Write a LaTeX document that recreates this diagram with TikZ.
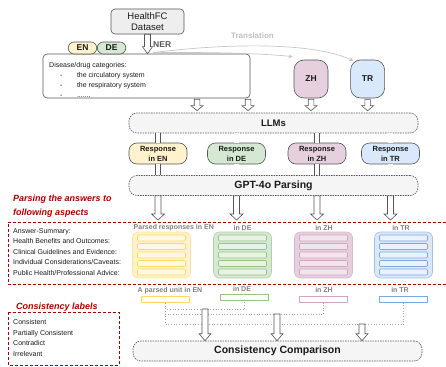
\documentclass[tikz,border=0pt]{standalone}
\usepackage{fontspec}
\setmainfont{Liberation Sans}
\usetikzlibrary{arrows.meta, calc, positioning}
\definecolor{edge}{HTML}{555555}
\definecolor{ink}{HTML}{1A1A1A}
\definecolor{panel}{HTML}{F5F5F5}
\definecolor{dataset}{HTML}{EEEEEE}
\definecolor{tagc}{HTML}{7F7F7F}
\definecolor{redc}{HTML}{B20000}
\definecolor{fillEN}{HTML}{FFF2CC}
\definecolor{lineEN}{HTML}{FFD966}
\definecolor{fillDE}{HTML}{D5E8D4}
\definecolor{lineDE}{HTML}{97C47E}
\definecolor{fillZH}{HTML}{E6D0DE}
\definecolor{lineZH}{HTML}{D4A5C0}
\definecolor{fillTR}{HTML}{DAE8FC}
\definecolor{lineTR}{HTML}{7EA6E0}
\tikzset{hollow/.style n args={4}{draw=edge, fill=white, line width=0.6pt,
  to path={let \p1=(\tikztostart), \p2=(\tikztotarget) in
    (\x1-#1,\y1) -- (\x1-#1,\y2+#3+#4) -- (\x1-#2,\y2+#3+#4) -- (\x1,\y2+#4)
    -- (\x1+#2,\y2+#3+#4) -- (\x1+#1,\y2+#3+#4) -- (\x1+#1,\y1) -- cycle}}}
\tikzstyle{box}=[draw=edge, line width=0.6pt, inner sep=0pt, align=center, text=ink]
\tikzstyle{stage}=[box, dash pattern=on 1.5pt off 1pt, fill=panel, rounded corners=8pt, minimum width=289pt, minimum height=20pt, font=\fontsize{9.5}{11}\selectfont\bfseries]
\tikzstyle{pill}=[box, rounded corners=6pt, minimum width=28.5pt, minimum height=12pt, font=\fontsize{8.5}{10}\selectfont\bfseries]
\tikzstyle{lang}=[box, rounded corners=10pt, minimum width=34pt, minimum height=38pt, font=\fontsize{8.5}{10}\selectfont\bfseries]
\tikzstyle{resp}=[box, rounded corners=8pt, minimum width=58pt, minimum height=21pt, font=\fontsize{7.5}{10}\selectfont\bfseries]
\tikzstyle{grp}=[rounded corners=6pt, minimum width=58pt, minimum height=46pt, inner sep=0pt, line width=0.6pt]
\tikzstyle{barbox}=[rounded corners=1pt, minimum width=48pt, minimum height=6pt, inner sep=0pt, line width=0.6pt]
\tikzstyle{unitbox}=[minimum width=48pt, minimum height=6pt, inner sep=0pt, line width=0.8pt, fill=white]
\tikzstyle{tag}=[text=tagc, font=\fontsize{7}{8}\selectfont\bfseries, inner sep=0pt]
\tikzstyle{listtext}=[text=ink, font=\fontsize{7}{10.5}\selectfont, align=left, inner sep=0pt]
\tikzstyle{redtitle}=[text=redc, font=\fontsize{9}{14}\selectfont\bfseries\itshape, align=left, inner sep=0pt]
\tikzstyle{redframe}=[draw=redc, line width=0.8pt, dash pattern=on 3pt off 2pt]
\tikzstyle{dotline}=[draw=gray!70, line width=0.7pt, dotted]
\tikzstyle{pipe}=[draw=edge, line width=0.6pt, double=white, double distance=4.6pt]
\tikzstyle{transl}=[draw=gray!45, line width=0.7pt, -{Stealth[length=4pt, width=4pt]}]
\tikzstyle{nerarrow}=[hollow={3pt}{5pt}{7pt}{0pt}]
\tikzstyle{smallarrow}=[hollow={2.8pt}{6pt}{5pt}{2pt}]
\tikzstyle{bigarrow}=[hollow={3pt}{6.5pt}{6pt}{2pt}]
\tikzstyle{lowarrow}=[hollow={3pt}{6pt}{7pt}{0pt}]

\begin{document}
\begin{tikzpicture}[x=1pt, y=-1pt]
  \useasboundingbox (0,0) rectangle (446,366);
  \node[box, fill=dataset, rounded corners=4pt, minimum width=73pt, minimum height=25pt, font=\fontsize{9.5}{11}\selectfont] (data) at (147.5,21.5) {HealthFC\\Dataset};
  \node[box, rounded corners=4pt, minimum width=207pt, minimum height=44pt] (cat) at (146.5,76) {};
  \node[listtext, anchor=north west, font=\fontsize{7}{10}\selectfont] (catlist) at (49,62) {Disease/drug categories:\\
    \hspace*{11pt}-\hspace*{14.5pt}the circulatory system\\
    \hspace*{11pt}-\hspace*{14.5pt}the respiratory system\\
    \hspace*{11pt}-\hspace*{14.5pt}.......};
  \node[pill, fill=fillEN] (en) at (82.5,48) {EN};
  \node[pill, fill=fillDE, right=0pt of en] (de) {DE};
  \node[lang, fill=fillZH] (zh) at (311,79) {ZH};
  \node[lang, fill=fillTR, right=22pt of zh] (tr) {TR};
  \draw[nerarrow] (data.south) to (cat.north);
  \node[tag, text=edge, font=\fontsize{8.5}{10}\selectfont\bfseries, anchor=west] (ner) at (153,45) {NER};
  \coordinate (tsrc) at ([xshift=6.5pt,yshift=1pt]cat.north);
  \draw[transl] (tsrc) .. controls (200,52) and (260,53) .. ([xshift=-1pt,yshift=3pt]zh.north west);
  \draw[transl] (tsrc) .. controls (220,44) and (310,41) .. ([xshift=3pt,yshift=-1pt]tr.north west);
  \node[tag, text=gray!50, font=\fontsize{8}{10}\selectfont\bfseries] (translbl) at (252.5,36) {Translation};

  \node[stage] (llm) at (273.5,123) {LLMs};
  \draw[smallarrow] ([xshift=50.5pt,yshift=-1pt]cat.south) to (llm.north);
  \draw[smallarrow] ([xshift=101.5pt,yshift=-1pt]cat.south) to (llm.north);
  \draw[smallarrow] ([yshift=-1pt]zh.south) to (llm.north);
  \draw[smallarrow] ([yshift=-1pt]tr.south) to (llm.north);

  \node[resp, fill=fillEN] (rEN) at (158,153.5) {Response\\in EN};
  \node[resp, fill=fillDE] (rDE) at (236.5,153.5) {Response\\in DE};
  \node[resp, fill=fillZH] (rZH) at (317,153.5) {Response\\in ZH};
  \node[resp, fill=fillTR] (rTR) at (390.5,153.5) {Response\\in TR};
  \node[stage, font=\fontsize{10.5}{12}\selectfont\bfseries] (gpt) at (273.5,185.5) {GPT-4o Parsing};

  \coordinate (aspectNW) at (8,222);
  \foreach \l in {EN,DE,ZH,TR}{
    \draw[pipe] (r\l |- llm.south) -- (r\l.north);
    \draw[pipe] (r\l.south) -- (r\l |- gpt.north);
    \draw[bigarrow] (r\l |- gpt.south) to (aspectNW);
  }

  \node[redtitle, anchor=west] (parsehead) at (13,206) {Parsing the answers to\\following aspects};
  \draw[redframe] (446,222) -- (aspectNW) -- (8,284) -- (446,284);
  \node[listtext, anchor=west] (aspects) at (13,252) {Answer-Summary:\\Health Benefits and Outcomes:\\Clinical Guidelines and Evidence:\\Individual Considerations/Caveats:\\Public Health/Professional Advice:};

  \foreach \l/\cx in {EN/161.5,DE/242.5,ZH/323.5,TR/403.5}{
    \node[grp, fill=fill\l, draw=line\l!60!fill\l] (p\l) at (\cx,255) {};
    \foreach \i/\by in {1/238,2/246.5,3/255,4/263.5,5/272}
      \node[barbox, fill=fill\l!55!white, draw=line\l] (b\l\i) at (\cx,\by) {};
  }
  \node[tag, anchor=west] (lEN) at (133.5,228) {Parsed responses in EN};
  \node[tag] (lDE) at (242.5,228) {in DE};
  \node[tag] (lZH) at (324,228) {in ZH};
  \node[tag] (lTR) at (401,228) {in TR};

  \node[unitbox, draw=lineEN] (uEN) at (165.5,299.5) {};
  \node[unitbox, draw=lineDE] (uDE) at (244.5,297) {};
  \node[unitbox, draw=lineZH] (uZH) at (323.5,299.5) {};
  \node[unitbox, draw=lineTR] (uTR) at (403.5,299.5) {};
  \node[tag] (tEN) at (170,290.5) {A parsed unit in EN};
  \node[tag] (tDE) at (242,288.5) {in DE};
  \node[tag] (tZH) at (324,289.5) {in ZH};
  \node[tag] (tTR) at (400,289.5) {in TR};
  \draw[dotline] (uEN.south) -- ++(0,6.5) -| (uDE.south);
  \draw[dotline] (uEN.south) -- ++(0,11.5) -| (uZH.south);
  \draw[dotline] (uEN.south) -- ++(0,21.5) -| (uTR.south);

  \node[stage, font=\fontsize{10.5}{12}\selectfont\bfseries] (cc) at (277.5,351) {Consistency Comparison};
  \coordinate (j1) at (205,309);
  \coordinate (j2) at (277,314);
  \coordinate (j3) at (362,324);
  \draw[lowarrow] (j1) to (cc.north);
  \draw[lowarrow] (j2) to (cc.north);
  \draw[lowarrow] (j3) to (cc.north);

  \node[redtitle, anchor=west] (labelhead) at (16,307) {Consistency labels};
  \draw[redframe] (8,312) rectangle (119,365);
  \node[listtext, anchor=west, font=\fontsize{7}{10.7}\selectfont] (labels) at (13,338) {Consistent\\Partially Consistent\\Contradict\\Irrelevant};
\end{tikzpicture}
\end{document}
